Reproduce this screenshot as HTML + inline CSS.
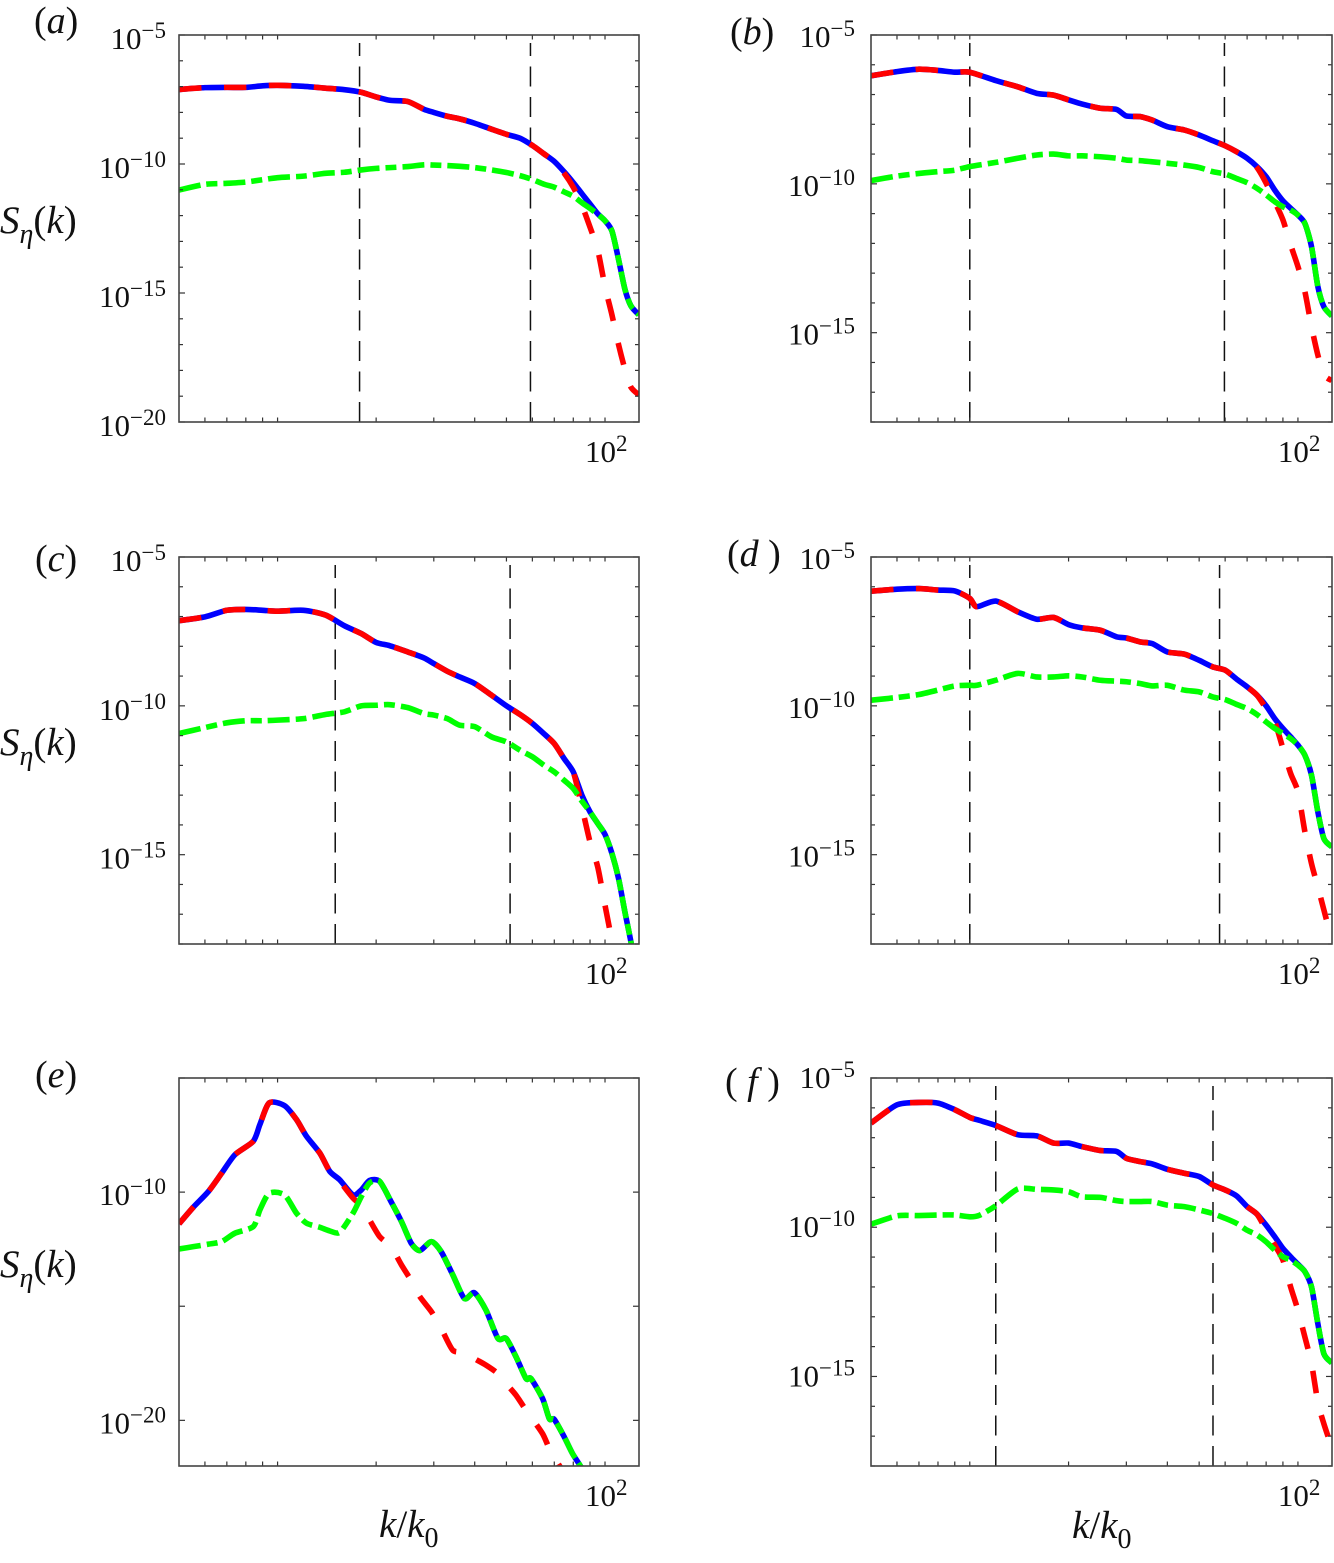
<!DOCTYPE html>
<html>
<head>
<meta charset="utf-8">
<title>Surface elevation spectra</title>
<style>
html,body{margin:0;padding:0;background:#fff;}
svg{display:block;}
text{font-family:"Liberation Serif",serif;fill:#111;}
.it{font-style:italic;}
</style>
</head>
<body>
<svg id="figure" xmlns="http://www.w3.org/2000/svg" width="1334" height="1563" viewBox="0 0 1334 1563">
<rect width="1334" height="1563" fill="#fff"/>
<g id="panels"></g>
<g font-size="38">
<text x="34" y="33">(<tspan class="it">a</tspan>)</text>
<text x="730" y="44">(<tspan class="it">b</tspan>)</text>
<text x="35" y="571">(<tspan class="it">c</tspan>)</text>
<text x="727" y="566">(<tspan class="it">d</tspan> )</text>
<text x="35" y="1087">(<tspan class="it">e</tspan>)</text>
<text x="725" y="1094">( <tspan class="it">f</tspan> )</text>
</g>
<g font-size="39">
<text x="0" y="233"><tspan class="it">S</tspan><tspan class="it" font-size="28" dy="10">η</tspan><tspan dy="-10">(</tspan><tspan class="it">k</tspan>)</text>
<text x="0" y="755"><tspan class="it">S</tspan><tspan class="it" font-size="28" dy="10">η</tspan><tspan dy="-10">(</tspan><tspan class="it">k</tspan>)</text>
<text x="0" y="1277"><tspan class="it">S</tspan><tspan class="it" font-size="28" dy="10">η</tspan><tspan dy="-10">(</tspan><tspan class="it">k</tspan>)</text>
</g>
<g font-size="39">
<text x="379" y="1537"><tspan class="it">k</tspan>/<tspan class="it">k</tspan><tspan font-size="28" dy="10">0</tspan></text>
<text x="1072" y="1538"><tspan class="it">k</tspan>/<tspan class="it">k</tspan><tspan font-size="28" dy="10">0</tspan></text>
</g>
</svg>
<script>
// Wavenumber samples k/k0 shared by the panels
const kGrid = [5,6,7,8,9,10,12,14,16,18,20,22,25,28,30,33,36,40,45,50,55,60,65,70,75,80,85,90,95,100,105,110,115,120,127];
const kD = [5,6,7,8,9,10,10.5,12,14,16,18,20,22,25,28,30,33,36,40,45,50,55,60,65,70,75,80,85,90,95,100,105,110,115,120,127];
const kF = [5,6,7,8,9,10,10.7,12,14,16,18,20,22,25,28,30,33,36,40,45,50,55,60,65,70,75,80,85,90,95,100,105,110,115,120,127];
const kE = [5,5.53,6.15,6.75,7.41,8.43,8.83,9.43,10.5,11.42,12.25,13.46,14.43,15.48,17,18.03,19.1,20.5,22.2,23.9,25.6,27.2,29.5,31.6,34.3,37.2,39.9,43.3,47.1,49.9,53.5,57.4,59.4,64.5,67.6,70,75.1,79.6,84.5,89.5];

// log10 of S_eta(k)
const aBlue = [-7.11,-7.04,-7.03,-7.03,-6.97,-6.95,-6.99,-7.06,-7.12,-7.22,-7.40,-7.53,-7.58,-7.88,-8.00,-8.15,-8.25,-8.42,-8.65,-8.85,-9.00,-9.28,-9.60,-9.90,-10.30,-10.72,-11.15,-11.55,-11.93,-12.20,-12.60,-13.70,-14.85,-15.50,-15.85];
const aRed = [-7.11,-7.04,-7.03,-7.03,-6.97,-6.95,-6.99,-7.06,-7.12,-7.22,-7.40,-7.53,-7.58,-7.88,-8.00,-8.15,-8.25,-8.42,-8.65,-8.85,-9.00,-9.28,-9.60,-9.90,-10.35,-10.90,-11.60,-12.45,-13.33,-14.75,-15.85,-17.00,-17.95,-18.65,-18.95];
const aGreen = [-11.01,-10.79,-10.75,-10.70,-10.61,-10.53,-10.47,-10.36,-10.32,-10.23,-10.17,-10.14,-10.10,-10.03,-10.04,-10.06,-10.09,-10.14,-10.23,-10.33,-10.45,-10.60,-10.78,-10.90,-11.08,-11.25,-11.50,-11.72,-11.95,-12.20,-12.60,-13.70,-14.85,-15.50,-15.85];

const bBlue = [-6.37,-6.23,-6.15,-6.19,-6.25,-6.25,-6.53,-6.74,-6.96,-7.02,-7.18,-7.32,-7.46,-7.50,-7.72,-7.74,-7.86,-8.08,-8.19,-8.36,-8.55,-8.72,-8.92,-9.14,-9.42,-9.76,-10.21,-10.57,-10.82,-11.05,-11.33,-12.11,-13.45,-14.13,-14.44];
const bRed = [-6.37,-6.23,-6.15,-6.19,-6.25,-6.25,-6.53,-6.74,-6.96,-7.02,-7.18,-7.32,-7.46,-7.50,-7.72,-7.74,-7.86,-8.08,-8.19,-8.36,-8.55,-8.72,-8.92,-9.14,-9.45,-9.98,-10.60,-11.21,-12.05,-12.78,-13.62,-14.80,-15.75,-16.42,-16.61];
const bGreen = [-9.89,-9.74,-9.65,-9.59,-9.54,-9.42,-9.28,-9.14,-9.03,-9.00,-9.06,-9.06,-9.09,-9.14,-9.20,-9.22,-9.26,-9.31,-9.37,-9.45,-9.59,-9.67,-9.82,-9.96,-10.15,-10.37,-10.60,-10.77,-10.88,-11.05,-11.33,-12.11,-13.45,-14.13,-14.44];

const cBlue = [-7.14,-7.01,-6.79,-6.76,-6.79,-6.82,-6.79,-6.95,-7.31,-7.57,-7.87,-7.98,-8.19,-8.39,-8.58,-8.84,-9.03,-9.25,-9.64,-10.00,-10.29,-10.59,-10.93,-11.27,-11.77,-12.22,-13.00,-13.56,-13.95,-14.32,-14.96,-15.80,-16.92,-17.93,-19.50];
const cRed = [-7.14,-7.01,-6.79,-6.76,-6.79,-6.82,-6.79,-6.95,-7.31,-7.57,-7.87,-7.98,-8.19,-8.39,-8.58,-8.84,-9.03,-9.25,-9.64,-10.00,-10.29,-10.59,-10.93,-11.27,-11.77,-12.22,-13.40,-14.57,-15.41,-16.70,-17.93,-19.50,-20.80,-22.00,-24.00];
const cGreen = [-10.93,-10.73,-10.57,-10.50,-10.50,-10.48,-10.43,-10.29,-10.20,-10.00,-9.98,-9.96,-10.06,-10.26,-10.31,-10.43,-10.65,-10.70,-11.04,-11.21,-11.49,-11.71,-11.99,-12.22,-12.50,-12.78,-13.20,-13.56,-13.95,-14.32,-14.96,-15.80,-16.92,-17.93,-19.50];

const dBlue = [-6.15,-6.08,-6.06,-6.11,-6.14,-6.39,-6.67,-6.48,-6.84,-7.09,-7.03,-7.27,-7.38,-7.46,-7.68,-7.72,-7.85,-7.91,-8.19,-8.26,-8.47,-8.69,-8.80,-9.10,-9.36,-9.64,-10.00,-10.43,-10.76,-11.04,-11.32,-11.66,-12.33,-13.56,-14.46,-14.74];
const dRed = [-6.15,-6.08,-6.06,-6.11,-6.14,-6.39,-6.67,-6.48,-6.84,-7.09,-7.03,-7.27,-7.38,-7.46,-7.68,-7.72,-7.85,-7.91,-8.19,-8.26,-8.47,-8.69,-8.80,-9.10,-9.36,-9.64,-10.09,-10.54,-11.43,-12.27,-12.89,-14.23,-15.30,-16.08,-16.86,-17.90];
const dGreen = [-9.81,-9.72,-9.62,-9.47,-9.33,-9.31,-9.31,-9.14,-8.91,-9.03,-9.03,-8.99,-9.03,-9.14,-9.17,-9.19,-9.25,-9.33,-9.31,-9.47,-9.53,-9.70,-9.79,-9.95,-10.09,-10.29,-10.54,-10.76,-10.93,-11.10,-11.32,-11.66,-12.33,-13.56,-14.46,-14.74];

const eBlue = [-11.39,-10.66,-9.97,-9.17,-8.36,-7.77,-7.04,-6.09,-6.21,-6.82,-7.55,-8.29,-9.09,-9.46,-10.12,-9.90,-9.49,-9.53,-10.41,-11.29,-12.24,-12.56,-12.17,-12.61,-13.63,-14.66,-14.41,-15.17,-16.41,-16.41,-17.22,-18.17,-18.17,-19.05,-19.93,-19.96,-20.73,-21.46,-22.05,-22.78];
const eRed = [-11.39,-10.66,-9.97,-9.17,-8.36,-7.77,-7.04,-6.09,-6.21,-6.82,-7.55,-8.29,-9.09,-9.53,-10.26,-10.60,-11.22,-11.95,-12.39,-13.19,-13.88,-14.58,-15.24,-15.97,-16.93,-17.00,-17.29,-17.58,-17.95,-18.39,-18.90,-19.56,-19.85,-20.59,-21.24,-21.61,-22.34,-22.93,-23.66,-24.25];
const eGreen = [-12.49,-12.39,-12.28,-12.17,-11.80,-11.51,-10.78,-10.05,-10.12,-10.92,-11.36,-11.54,-11.70,-11.76,-10.92,-10.19,-9.60,-9.53,-10.41,-11.29,-12.24,-12.56,-12.17,-12.61,-13.63,-14.66,-14.41,-15.17,-16.41,-16.41,-17.22,-18.17,-18.17,-19.05,-19.93,-19.96,-20.73,-21.46,-22.05,-22.78];

const fBlue = [-6.51,-5.90,-5.82,-5.84,-6.06,-6.32,-6.42,-6.59,-6.90,-6.94,-7.18,-7.18,-7.30,-7.43,-7.46,-7.69,-7.80,-7.88,-8.06,-8.19,-8.30,-8.58,-8.75,-8.95,-9.31,-9.56,-9.93,-10.32,-10.71,-10.99,-11.24,-11.49,-12.00,-13.23,-14.24,-14.55];
const fRed = [-6.51,-5.90,-5.82,-5.84,-6.06,-6.32,-6.42,-6.59,-6.90,-6.94,-7.18,-7.18,-7.30,-7.43,-7.46,-7.69,-7.80,-7.88,-8.06,-8.19,-8.30,-8.58,-8.75,-8.95,-9.31,-9.56,-10.09,-10.60,-11.10,-12.00,-12.78,-13.68,-14.57,-15.86,-16.59,-17.40];
const fGreen = [-9.90,-9.62,-9.61,-9.59,-9.59,-9.65,-9.60,-9.28,-8.72,-8.73,-8.75,-8.81,-8.98,-9.00,-9.11,-9.14,-9.14,-9.14,-9.26,-9.31,-9.42,-9.54,-9.70,-9.87,-10.10,-10.26,-10.49,-10.77,-10.99,-11.10,-11.27,-11.49,-12.00,-13.23,-14.24,-14.55];

// Dashed band limits (k/k0)
const aBand = [17.8, 59.2];
const bBand = [10, 59.7];
const cBand = [15, 51.3];
const dBand = [10, 57.7];
const eBand = [];
const fBand = [12, 55.1];

// Axis ticks
const xLimits = [5, 127];
const xTickValues = [6,7,8,9,10,20,30,40,50,60,70,80,90,100];
const xTickLabel = '2';
const yTicksAll13 = [-5,-6,-7,-8,-9,-10,-11,-12,-13,-14,-15,-16,-17,-18];
const yTicksAll15 = [-5,-6,-7,-8,-9,-10,-11,-12,-13,-14,-15,-16,-17,-18,-19,-20];
const yTicksSparse = [-5,-10,-15,-20];
const yLabels5 = ['-5','-10','-15','-20'];
const yLabels3 = ['-5','-10','-15'];
const yLabelsE = ['-10','-20'];

const panels = [
 {id:'a',l:179,r:639,t:35,b:422,yTop:-5,yBot:-20,ks:kGrid,blue:aBlue,red:aRed,green:aGreen,band:aBand,ticks:yTicksAll15,labels:yLabels5,lab:13,base:14},
 {id:'b',l:871,r:1332,t:35,b:422,yTop:-5,yBot:-18,ks:kGrid,blue:bBlue,red:bRed,green:bGreen,band:bBand,ticks:yTicksAll13,labels:yLabels3,lab:16,base:12},
 {id:'c',l:179,r:639,t:557,b:944,yTop:-5,yBot:-18,ks:kGrid,blue:cBlue,red:cRed,green:cGreen,band:cBand,ticks:yTicksAll13,labels:yLabels3,lab:13,base:14},
 {id:'d',l:871,r:1332,t:557,b:944,yTop:-5,yBot:-18,ks:kD,blue:dBlue,red:dRed,green:dGreen,band:dBand,ticks:yTicksAll13,labels:yLabels3,lab:16,base:12},
 {id:'e',l:179,r:639,t:1078,b:1466,yTop:-5,yBot:-22,ks:kE,blue:eBlue,red:eRed,green:eGreen,band:eBand,ticks:yTicksSparse,labels:yLabelsE,lab:13,base:13},
 {id:'f',l:871,r:1332,t:1078,b:1466,yTop:-5,yBot:-18,ks:kF,blue:fBlue,red:fRed,green:fGreen,band:fBand,ticks:yTicksAll13,labels:yLabels3,lab:16,base:10}
];

const NS = 'http://www.w3.org/2000/svg';
const root = document.getElementById('panels');

function make(tag, attrs, parent){
  const el = document.createElementNS(NS, tag);
  for (const key in attrs) el.setAttribute(key, attrs[key]);
  parent.appendChild(el);
  return el;
}
function powerLabel(x, y, exponent, anchor, parent, name){
  const t = make('text', {x:x, y:y, 'text-anchor':anchor, 'font-size':31}, parent);
  
  
  const base = make('tspan', {}, t);
  base.textContent = '10';
  const sup = make('tspan', {dy:-11, 'font-size':23}, t);
  sup.textContent = exponent.replace('-', '\u2212');
}
function smoothPath(pts){
  let d = 'M' + pts[0][0].toFixed(2) + ' ' + pts[0][1].toFixed(2);
  for (let i = 0; i < pts.length - 1; i++) {
    const p0 = pts[Math.max(i - 1, 0)];
    const p1 = pts[i];
    const p2 = pts[i + 1];
    const p3 = pts[Math.min(i + 2, pts.length - 1)];
    const c1x = p1[0] + (p2[0] - p0[0]) / 8;
    const c1y = p1[1] + (p2[1] - p0[1]) / 8;
    const c2x = p2[0] - (p3[0] - p1[0]) / 8;
    const c2y = p2[1] - (p3[1] - p1[1]) / 8;
    d += ' C' + c1x.toFixed(2) + ' ' + c1y.toFixed(2) + ' ' + c2x.toFixed(2) + ' ' + c2y.toFixed(2) + ' ' + p2[0].toFixed(2) + ' ' + p2[1].toFixed(2);
  }
  return d;
}

panels.forEach(function(p){
  const g = make('g', {}, root);
  
  
  const lx0 = Math.log10(xLimits[0]);
  const lx1 = Math.log10(xLimits[1]);
  const X = function(k){ return p.l + (Math.log10(k) - lx0) / (lx1 - lx0) * (p.r - p.l); };
  const Y = function(e){ return p.t + (e - p.yTop) / (p.yBot - p.yTop) * (p.b - p.t); };

  const clip = make('clipPath', {id:'clip-' + p.id}, g);
  make('rect', {x:p.l, y:p.t, width:p.r - p.l, height:p.b - p.t}, clip);
  const plot = make('g', {'clip-path':'url(#clip-' + p.id + ')'}, g);

  p.band.forEach(function(k, i){
    const vx = X(k);
    const line = make('line', {x1:vx, x2:vx, y1:p.b, y2:p.t + 8, stroke:'#111', 'stroke-width':1.5, 'stroke-dasharray':'20 10.5'}, plot);
    
    
  });

  function curve(vals, color, dash, name){
    const pts = p.ks.map(function(k, i){ return [X(k), Y(vals[i])]; });
    const path = make('path', {d:smoothPath(pts), fill:'none', stroke:color, 'stroke-width':5.6, 'stroke-linejoin':'round'}, plot);
    if (dash) path.setAttribute('stroke-dasharray', dash);
    
    
  }
  curve(p.blue, '#0000ff', null, 'total-spectrum-' + p.id);
  curve(p.red, '#ff0000', '22.5 22.5', 'linear-spectrum-' + p.id);
  curve(p.green, '#00ff00', '22 6 11 6', 'nonlinear-spectrum-' + p.id);

  const ticks = make('g', {stroke:'#333', 'stroke-width':1.2}, g);
  
  
  xTickValues.forEach(function(k){
    const tx = X(k);
    make('line', {x1:tx, x2:tx, y1:p.b, y2:p.b - 4.5}, ticks);
    make('line', {x1:tx, x2:tx, y1:p.t, y2:p.t + 4.5}, ticks);
  });
  p.ticks.forEach(function(e){
    const ty = Y(e);
    const len = (e % 5 === 0) ? 6 : 4;
    make('line', {x1:p.l, x2:p.l + len, y1:ty, y2:ty}, ticks);
    make('line', {x1:p.r, x2:p.r - len, y1:ty, y2:ty}, ticks);
  });

  const frame = make('rect', {x:p.l, y:p.t, width:p.r - p.l, height:p.b - p.t, fill:'none', stroke:'#444', 'stroke-width':1.6}, g);
  
  

  p.labels.forEach(function(lbl){
    powerLabel(p.l - p.lab, Y(Number(lbl)) + p.base, lbl, 'end', g, 'y-tick-label-' + p.id);
  });
  powerLabel(X(100) - 20, p.b + 40, xTickLabel, 'start', g, 'x-tick-label-' + p.id);
});
</script>
</body>
</html>
